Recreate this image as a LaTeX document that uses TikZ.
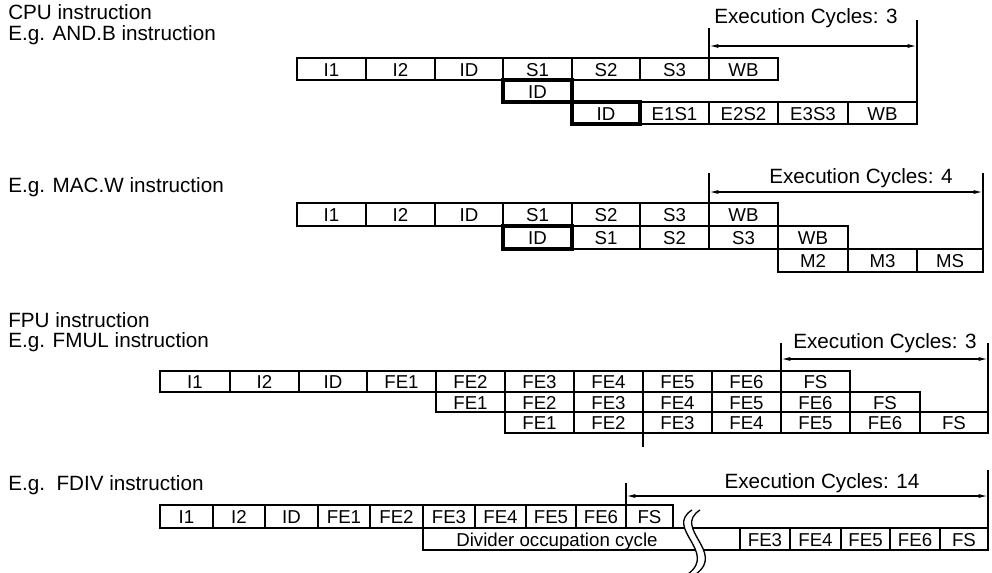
\documentclass[tikz,border=0pt]{standalone}
\usepackage{fontspec}
\setmainfont{Liberation Sans}
\usetikzlibrary{arrows.meta}
\newcommand\pcell[7][]{\node[cellsty,#1,minimum width={(#5-#3)*0.75pt},minimum height={(#6-#4)*0.75pt},anchor=north west] (#2) at (#3,#4) {#7};}
\begin{document}
\begin{tikzpicture}[x=0.75pt,y=-0.75pt,
  cellsty/.style={draw=black,line width=1.8pt,inner sep=0pt,outer sep=0pt,font=\fontsize{14}{15}\selectfont,text height=11.2pt,text depth=0pt},
  thickcell/.style={line width=3.6pt},
  lbl/.style={font=\fontsize{15.5}{17}\selectfont,anchor=west,inner sep=0pt},
  exc/.style={font=\fontsize{15.5}{17}\selectfont,inner sep=0pt},
  dim/.style={line width=1pt},
  dimarrow/.style={line width=1pt,{Latex[length=7pt,width=3pt]}-{Latex[length=7pt,width=3pt]}}]
\useasboundingbox (0,0) rectangle (992,572);

% ---------- labels ----------
\node[lbl] (t1) at (8,12) {CPU instruction};
\node[lbl] (t2) at (8,35) {E.g. AND.B instruction};
\node[lbl] (t3) at (8,187) {E.g. MAC.W instruction};
\node[lbl] (t4) at (8,320) {FPU instruction};
\node[lbl] (t5) at (8,342) {E.g. FMUL instruction};
\node[lbl] (t6) at (8,485) {E.g.\ \ FDIV instruction};

% ---------- section 1: AND.B ----------
\pcell{a1i1}{297}{58}{366}{80}{I1}
\pcell{a1i2}{366}{58}{435}{80}{I2}
\pcell{a1id}{435}{58}{503}{80}{ID}
\pcell{a1s1}{503}{58}{572}{80}{S1}
\pcell{a1s2}{572}{58}{640}{80}{S2}
\pcell{a1s3}{640}{58}{709}{80}{S3}
\pcell{a1wb}{709}{58}{778}{80}{WB}
\pcell{a3e1}{640}{102}{709}{124}{E1S1}
\pcell{a3e2}{709}{102}{778}{124}{E2S2}
\pcell{a3e3}{778}{102}{848}{124}{E3S3}
\pcell{a3wb}{848}{102}{917}{124}{WB}
\pcell[thickcell]{a2id}{503}{80}{572}{102}{ID}
\pcell[thickcell]{a3id}{572}{102}{640}{124}{ID}
\coordinate (e1l) at (709,28);
\coordinate (e1r) at (917,20);
\coordinate (a1l) at (709,46);
\coordinate (a1r) at (917,46);
\draw[dim] (e1l) -- (a1wb.north west);
\draw[dim] (e1r) -- (a3wb.north east);
\draw[dimarrow] (a1l) -- (a1r);
\node[exc] (x1) at (806,18) {Execution Cycles: 3};

% ---------- section 2: MAC.W ----------
\pcell{b1i1}{297}{203}{366}{226}{I1}
\pcell{b1i2}{366}{203}{435}{226}{I2}
\pcell{b1id}{435}{203}{503}{226}{ID}
\pcell{b1s1}{503}{203}{572}{226}{S1}
\pcell{b1s2}{572}{203}{640}{226}{S2}
\pcell{b1s3}{640}{203}{709}{226}{S3}
\pcell{b1wb}{709}{203}{778}{226}{WB}
\pcell{b2s1}{572}{226}{640}{249}{S1}
\pcell{b2s2}{640}{226}{709}{249}{S2}
\pcell{b2s3}{709}{226}{778}{249}{S3}
\pcell{b2wb}{778}{226}{848}{249}{WB}
\pcell{b3m2}{778}{249}{848}{272}{M2}
\pcell{b3m3}{848}{249}{917}{272}{M3}
\pcell{b3ms}{917}{249}{983}{272}{MS}
\pcell[thickcell]{b2id}{503}{226}{572}{249}{ID}
\coordinate (e2l) at (709,173);
\coordinate (e2r) at (983,173);
\coordinate (a2l) at (709,192);
\coordinate (a2r) at (983,192);
\draw[dim] (e2l) -- (b1wb.north west);
\draw[dim] (e2r) -- (b3ms.north east);
\draw[dimarrow] (a2l) -- (a2r);
\node[exc] (x2) at (861,178) {Execution Cycles: 4};

% ---------- section 3: FMUL ----------
\pcell{c1i1}{160}{371}{230}{392}{I1}
\pcell{c1i2}{230}{371}{299}{392}{I2}
\pcell{c1id}{299}{371}{367}{392}{ID}
\pcell{c1f1}{367}{371}{436}{392}{FE1}
\pcell{c1f2}{436}{371}{505}{392}{FE2}
\pcell{c1f3}{505}{371}{574}{392}{FE3}
\pcell{c1f4}{574}{371}{643}{392}{FE4}
\pcell{c1f5}{643}{371}{712}{392}{FE5}
\pcell{c1f6}{712}{371}{781}{392}{FE6}
\pcell{c1fs}{781}{371}{850}{392}{FS}
\pcell{c2f1}{436}{392}{505}{412}{FE1}
\pcell{c2f2}{505}{392}{574}{412}{FE2}
\pcell{c2f3}{574}{392}{643}{412}{FE3}
\pcell{c2f4}{643}{392}{712}{412}{FE4}
\pcell{c2f5}{712}{392}{781}{412}{FE5}
\pcell{c2f6}{781}{392}{850}{412}{FE6}
\pcell{c2fs}{850}{392}{920}{412}{FS}
\pcell{c3f1}{505}{412}{574}{433}{FE1}
\pcell{c3f2}{574}{412}{643}{433}{FE2}
\pcell{c3f3}{643}{412}{712}{433}{FE3}
\pcell{c3f4}{712}{412}{781}{433}{FE4}
\pcell{c3f5}{781}{412}{850}{433}{FE5}
\pcell{c3f6}{850}{412}{920}{433}{FE6}
\pcell{c3fs}{920}{412}{988}{433}{FS}
\coordinate (e3l) at (781,343);
\coordinate (e3r) at (988,343);
\coordinate (a3l) at (781,359);
\coordinate (a3r) at (988,359);
\coordinate (tk3) at (643,447);
\draw[dim] (e3l) -- (c1fs.north west);
\draw[dim] (e3r) -- (c3fs.north east);
\draw[dimarrow] (a3l) -- (a3r);
\draw[line width=1.8pt] (c3f3.south west) -- (tk3);
\node[exc] (x3) at (885,343) {Execution Cycles: 3};

% ---------- section 4: FDIV ----------
\pcell{d1i1}{160}{505}{213}{528}{I1}
\pcell{d1i2}{213}{505}{265}{528}{I2}
\pcell{d1id}{265}{505}{318}{528}{ID}
\pcell{d1f1}{318}{505}{370}{528}{FE1}
\pcell{d1f2}{370}{505}{423}{528}{FE2}
\pcell{d1f3}{423}{505}{475}{528}{FE3}
\pcell{d1f4}{475}{505}{526}{528}{FE4}
\pcell{d1f5}{526}{505}{576}{528}{FE5}
\pcell{d1f6}{576}{505}{626}{528}{FE6}
\pcell{d1fs}{626}{505}{673}{528}{FS}
\pcell{d2div}{423}{528}{740}{550}{}
\pcell{d2f3}{740}{528}{790}{550}{FE3}
\pcell{d2f4}{790}{528}{841}{550}{FE4}
\pcell{d2f5}{841}{528}{890}{550}{FE5}
\pcell{d2f6}{890}{528}{940}{550}{FE6}
\pcell{d2fs}{940}{528}{988}{550}{FS}
\node[cellsty,draw=none] (d2txt) at (557,539) {Divider occupation cycle};
% break mark
\fill[white] (692,508) .. controls (664,528) and (718,552) .. (688,574)
  -- (696,574) .. controls (726,552) and (672,528) .. (700,508) -- cycle;
\draw[dim] (692,510) .. controls (664,528) and (718,552) .. (688,574);
\draw[dim] (700,510) .. controls (672,528) and (726,552) .. (696,574);
\coordinate (e4l) at (626,483);
\coordinate (e4r) at (988,470);
\coordinate (a4l) at (626,496);
\coordinate (a4r) at (988,496);
\draw[dim] (e4l) -- (d1fs.north west);
\draw[dim] (e4r) -- (d2fs.north east);
\draw[dimarrow] (a4l) -- (a4r);
\node[exc] (x4) at (822,483) {Execution Cycles: 14};
\end{tikzpicture}
\end{document}
